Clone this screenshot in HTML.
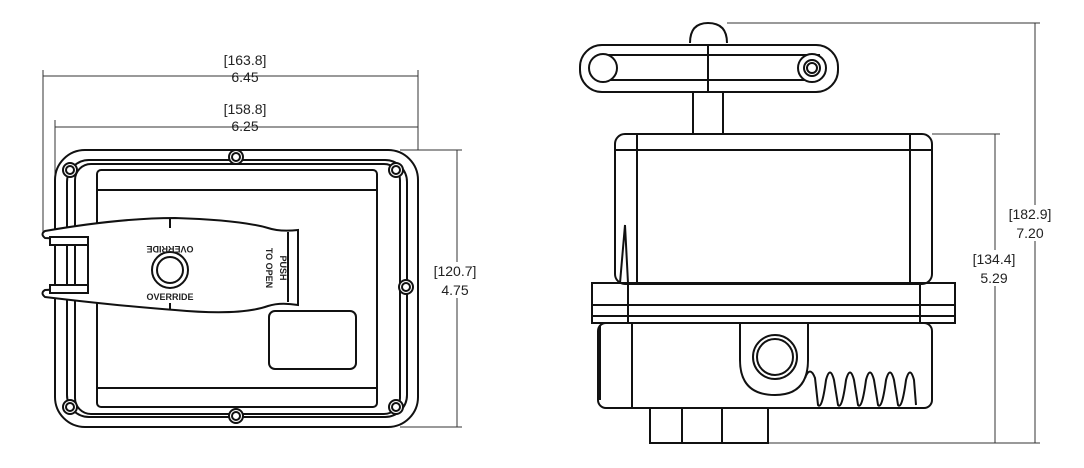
<!DOCTYPE html>
<html><head><style>html,body{margin:0;padding:0;background:#fff}svg{display:block}text{font-family:"Liberation Sans",sans-serif;fill:#222}</style></head>
<body>
<svg width="1084" height="468" viewBox="0 0 1084 468" xmlns="http://www.w3.org/2000/svg">
<g fill="none" stroke="#333" stroke-width="1">
<line x1="43" y1="70" x2="43" y2="235"/><line x1="418" y1="70" x2="418" y2="150"/>
<line x1="55" y1="120" x2="55" y2="232"/>
<line x1="43" y1="76" x2="418" y2="76"/><line x1="55" y1="127" x2="418" y2="127"/>
<line x1="400" y1="150" x2="462" y2="150"/><line x1="400" y1="427" x2="462" y2="427"/>
<line x1="457" y1="150" x2="457" y2="427"/>
<line x1="727" y1="23" x2="1040" y2="23"/><line x1="932" y1="134" x2="1000" y2="134"/>
<line x1="768" y1="443" x2="1040" y2="443"/>
<line x1="1035" y1="23" x2="1035" y2="443"/><line x1="995" y1="134" x2="995" y2="443"/>
</g>
<g fill="#fff" stroke="none">
<rect x="428" y="262" width="60" height="36"/>
<rect x="1008" y="205" width="50" height="36"/>
<rect x="968" y="250" width="50" height="36"/>
</g>
<g font-size="14" text-anchor="middle">
<text x="245" y="65">[163.8]</text><text x="245" y="82">6.45</text>
<text x="245" y="114">[158.8]</text><text x="245" y="131">6.25</text>
<text x="455" y="276">[120.7]</text><text x="455" y="295">4.75</text>
<text x="1030" y="219">[182.9]</text><text x="1030" y="238">7.20</text>
<text x="994" y="264">[134.4]</text><text x="994" y="283">5.29</text>
</g>
<g fill="none" stroke="#111" stroke-width="2">
<rect x="55" y="150" width="363" height="277" rx="30"/>
<rect x="67" y="160" width="340" height="257" rx="22"/>
<rect x="75" y="164" width="325" height="250" rx="16"/>
<rect x="97" y="170" width="280" height="237" rx="4"/>
<rect x="97" y="190" width="280" height="198"/>
<rect x="269" y="311" width="87" height="58" rx="6"/>
<g fill="#fff">
<circle cx="70" cy="170" r="7"/><circle cx="70" cy="170" r="4"/>
<circle cx="396" cy="170" r="7"/><circle cx="396" cy="170" r="4"/>
<circle cx="236" cy="157" r="7"/><circle cx="236" cy="157" r="4"/>
<circle cx="70" cy="407" r="7"/><circle cx="70" cy="407" r="4"/>
<circle cx="396" cy="407" r="7"/><circle cx="396" cy="407" r="4"/>
<circle cx="236" cy="416" r="7"/><circle cx="236" cy="416" r="4"/>
<circle cx="406" cy="287" r="7"/><circle cx="406" cy="287" r="4"/>
</g>
<path d="M45 231 Q120 218 175 218 Q240 220 268 228 Q280 232 298 230 L298 305 Q280 302 268 306 Q240 316 175 310 Q120 306 45 297 Q40 293 45 290 L88 288 L88 240 L45 238 Q40 234 45 231 Z" fill="#fff"/>
<rect x="50" y="237" width="38" height="8" fill="#fff"/><rect x="50" y="285" width="38" height="8" fill="#fff"/>
<line x1="288" y1="232" x2="288" y2="302"/>
<circle cx="170" cy="270" r="18"/><circle cx="170" cy="270" r="13"/>
<line x1="170" y1="218" x2="170" y2="228"/><line x1="170" y1="303" x2="170" y2="310"/>
</g>
<g font-size="9" font-weight="bold" text-anchor="middle">
<text transform="translate(170,246) rotate(180)" x="0" y="0">OVERRIDE</text>
<text x="170" y="300">OVERRIDE</text>
<text transform="translate(266,268) rotate(90)">TO OPEN</text>
<text transform="translate(280,268) rotate(90)">PUSH</text>
</g>
<g fill="none" stroke="#111" stroke-width="2">
<path d="M690 43 Q690 23 708 23 Q727 23 727 43"/>
<rect x="580" y="45" width="258" height="47" rx="22" fill="#fff"/>
<line x1="600" y1="55" x2="820" y2="55"/><line x1="600" y1="80" x2="820" y2="80"/>
<line x1="708" y1="45" x2="708" y2="92"/>
<circle cx="603" cy="68" r="14" fill="#fff"/>
<circle cx="812" cy="68" r="14" fill="#fff"/><circle cx="812" cy="68" r="8"/><circle cx="812" cy="68" r="5"/>
<rect x="693" y="92" width="30" height="42"/>
<rect x="615" y="134" width="317" height="150" rx="10"/>
<line x1="615" y1="150" x2="932" y2="150"/>
<line x1="637" y1="134" x2="637" y2="283"/><line x1="910" y1="134" x2="910" y2="283"/>
<rect x="592" y="283" width="363" height="40"/>
<line x1="592" y1="305" x2="955" y2="305"/><line x1="592" y1="316" x2="955" y2="316"/>
<line x1="628" y1="283" x2="628" y2="323"/><line x1="920" y1="283" x2="920" y2="323"/>
<rect x="598" y="323" width="334" height="85" rx="8"/>
<line x1="632" y1="323" x2="632" y2="408"/><line x1="600" y1="325" x2="600" y2="400"/>
<rect x="650" y="408" width="118" height="35"/>
<line x1="682" y1="408" x2="682" y2="443"/><line x1="722" y1="408" x2="722" y2="443"/>
<path d="M740 323 L740 360 Q740 395 775 395 Q808 395 808 360 L808 323"/>
<circle cx="775" cy="357" r="22"/><circle cx="775" cy="357" r="18"/>
<path d="M805 378 Q810 365 815 378 L818 405 Q822 410 826 380 Q830 365 834 380 L838 405 Q842 410 846 380 Q850 365 854 380 L858 405 Q862 410 866 380 Q870 365 874 380 L878 405 Q882 410 886 380 Q890 365 894 380 L898 405 Q902 410 906 380 Q910 365 914 380 L916 405"/>
<path d="M620 283 L625 225 L628 283"/>
</g>
</svg>
</body></html>
